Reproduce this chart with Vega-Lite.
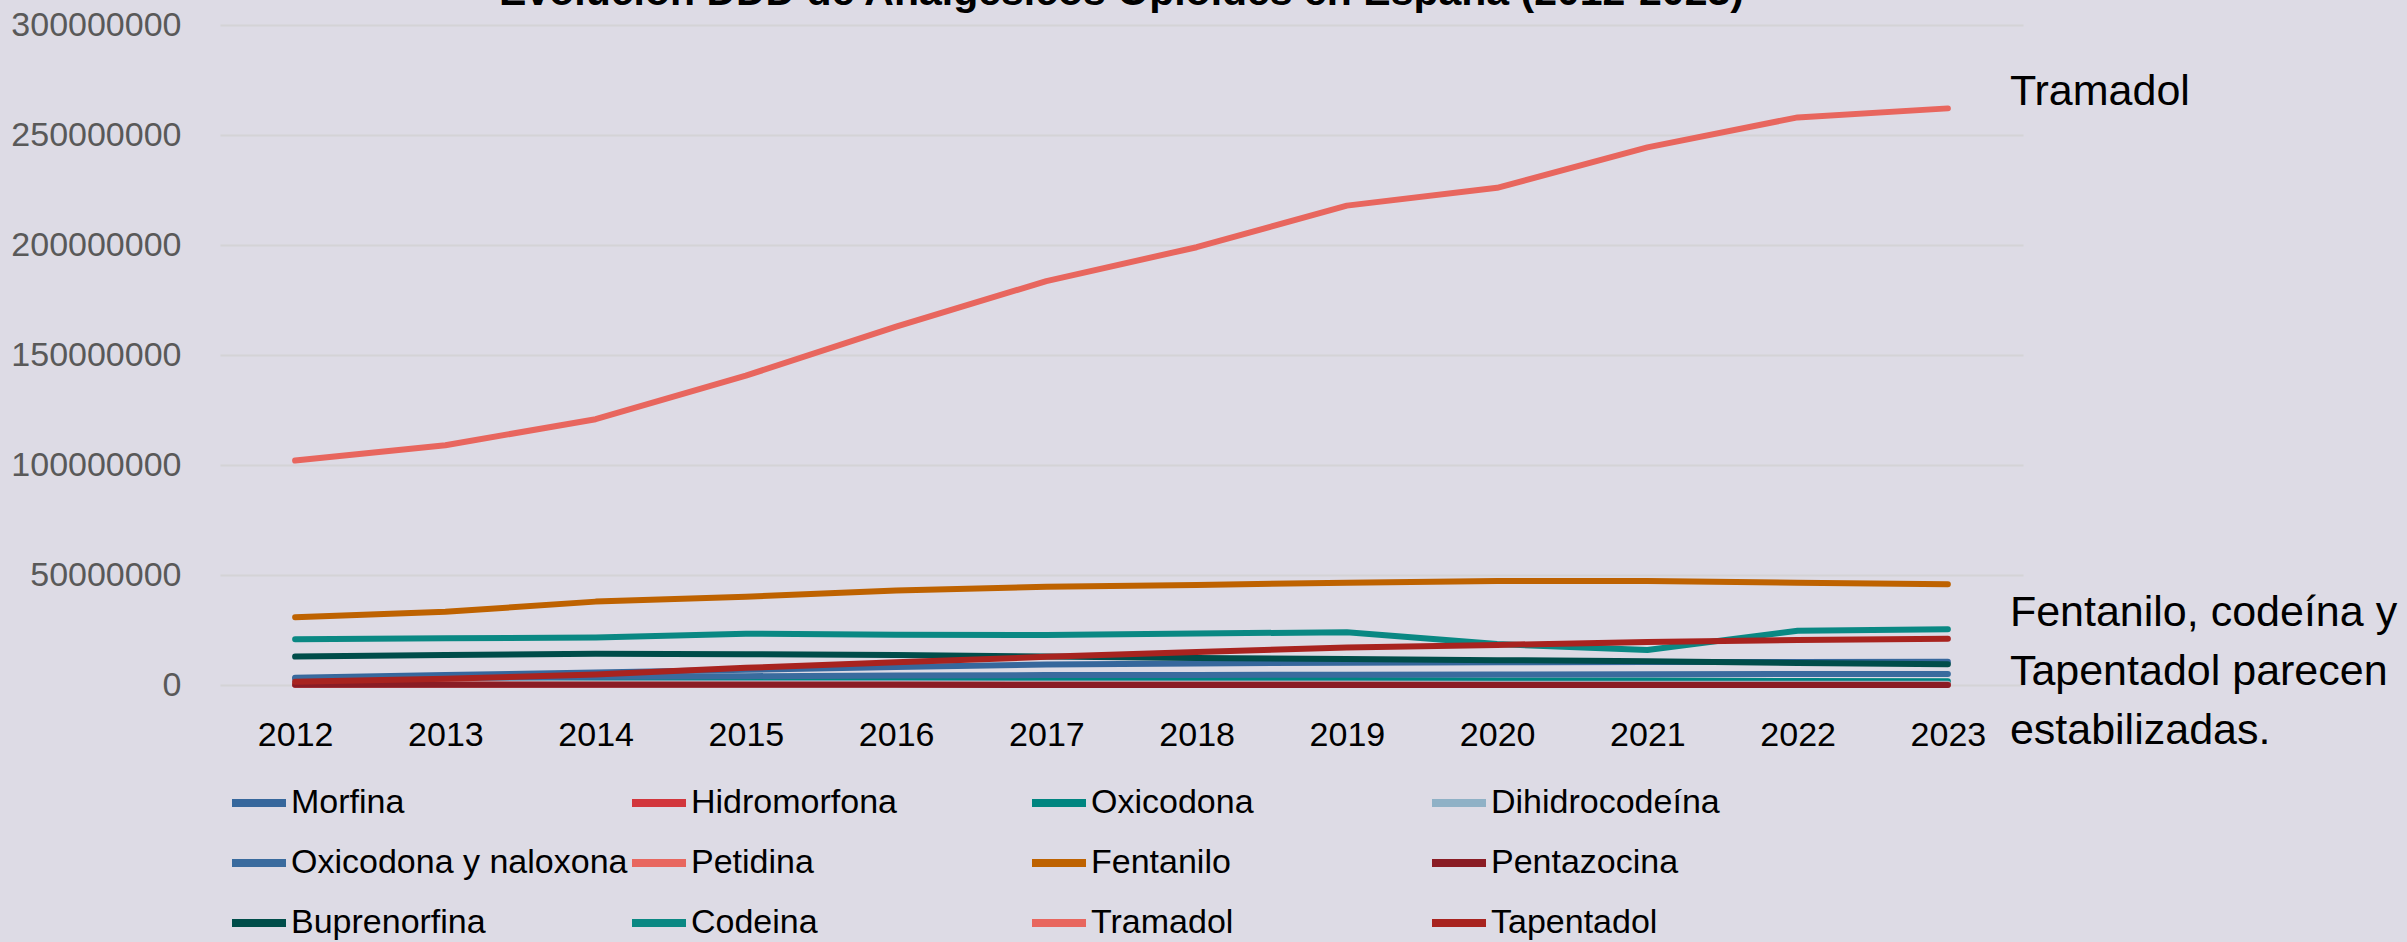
{
  "$schema": "https://vega.github.io/schema/vega-lite/v6.json",
  "width": 1803,
  "height": 660,
  "autosize": {"type": "none"},
  "padding": {"left": 220, "top": 25, "right": 384, "bottom": 257},
  "background": "#DDDBE5",
  "title": {
    "text": "Evolución DDD de Analgésicos Opioides en España (2012-2023)",
    "font": "Liberation Sans",
    "fontSize": 41,
    "fontWeight": "bold",
    "color": "#000000",
    "anchor": "middle",
    "baseline": "alphabetic",
    "offset": 0,
    "dy": 38
  },
  "config": {
    "view": {"stroke": null},
    "font": "Liberation Sans"
  },
  "datasets": {
    "series": [
      {"year": 2012, "drug": "Morfina", "ddd": 3300000},
      {"year": 2013, "drug": "Morfina", "ddd": 4500000},
      {"year": 2014, "drug": "Morfina", "ddd": 5700000},
      {"year": 2015, "drug": "Morfina", "ddd": 6900000},
      {"year": 2016, "drug": "Morfina", "ddd": 8200000},
      {"year": 2017, "drug": "Morfina", "ddd": 9300000},
      {"year": 2018, "drug": "Morfina", "ddd": 9800000},
      {"year": 2019, "drug": "Morfina", "ddd": 10100000},
      {"year": 2020, "drug": "Morfina", "ddd": 10300000},
      {"year": 2021, "drug": "Morfina", "ddd": 10400000},
      {"year": 2022, "drug": "Morfina", "ddd": 10500000},
      {"year": 2023, "drug": "Morfina", "ddd": 10600000},
      {"year": 2012, "drug": "Hidromorfona", "ddd": 100000},
      {"year": 2013, "drug": "Hidromorfona", "ddd": 200000},
      {"year": 2014, "drug": "Hidromorfona", "ddd": 300000},
      {"year": 2015, "drug": "Hidromorfona", "ddd": 400000},
      {"year": 2016, "drug": "Hidromorfona", "ddd": 450000},
      {"year": 2017, "drug": "Hidromorfona", "ddd": 500000},
      {"year": 2018, "drug": "Hidromorfona", "ddd": 550000},
      {"year": 2019, "drug": "Hidromorfona", "ddd": 600000},
      {"year": 2020, "drug": "Hidromorfona", "ddd": 600000},
      {"year": 2021, "drug": "Hidromorfona", "ddd": 600000},
      {"year": 2022, "drug": "Hidromorfona", "ddd": 600000},
      {"year": 2023, "drug": "Hidromorfona", "ddd": 600000},
      {"year": 2012, "drug": "Oxicodona", "ddd": 800000},
      {"year": 2013, "drug": "Oxicodona", "ddd": 1200000},
      {"year": 2014, "drug": "Oxicodona", "ddd": 1600000},
      {"year": 2015, "drug": "Oxicodona", "ddd": 2000000},
      {"year": 2016, "drug": "Oxicodona", "ddd": 2300000},
      {"year": 2017, "drug": "Oxicodona", "ddd": 2400000},
      {"year": 2018, "drug": "Oxicodona", "ddd": 2400000},
      {"year": 2019, "drug": "Oxicodona", "ddd": 2300000},
      {"year": 2020, "drug": "Oxicodona", "ddd": 2100000},
      {"year": 2021, "drug": "Oxicodona", "ddd": 2000000},
      {"year": 2022, "drug": "Oxicodona", "ddd": 1800000},
      {"year": 2023, "drug": "Oxicodona", "ddd": 1700000},
      {"year": 2012, "drug": "Dihidrocodeína", "ddd": 900000},
      {"year": 2013, "drug": "Dihidrocodeína", "ddd": 900000},
      {"year": 2014, "drug": "Dihidrocodeína", "ddd": 800000},
      {"year": 2015, "drug": "Dihidrocodeína", "ddd": 800000},
      {"year": 2016, "drug": "Dihidrocodeína", "ddd": 800000},
      {"year": 2017, "drug": "Dihidrocodeína", "ddd": 700000},
      {"year": 2018, "drug": "Dihidrocodeína", "ddd": 700000},
      {"year": 2019, "drug": "Dihidrocodeína", "ddd": 700000},
      {"year": 2020, "drug": "Dihidrocodeína", "ddd": 600000},
      {"year": 2021, "drug": "Dihidrocodeína", "ddd": 600000},
      {"year": 2022, "drug": "Dihidrocodeína", "ddd": 600000},
      {"year": 2023, "drug": "Dihidrocodeína", "ddd": 600000},
      {"year": 2012, "drug": "Oxicodona y naloxona", "ddd": 2800000},
      {"year": 2013, "drug": "Oxicodona y naloxona", "ddd": 3300000},
      {"year": 2014, "drug": "Oxicodona y naloxona", "ddd": 3700000},
      {"year": 2015, "drug": "Oxicodona y naloxona", "ddd": 4000000},
      {"year": 2016, "drug": "Oxicodona y naloxona", "ddd": 4300000},
      {"year": 2017, "drug": "Oxicodona y naloxona", "ddd": 4500000},
      {"year": 2018, "drug": "Oxicodona y naloxona", "ddd": 4600000},
      {"year": 2019, "drug": "Oxicodona y naloxona", "ddd": 4700000},
      {"year": 2020, "drug": "Oxicodona y naloxona", "ddd": 4800000},
      {"year": 2021, "drug": "Oxicodona y naloxona", "ddd": 4900000},
      {"year": 2022, "drug": "Oxicodona y naloxona", "ddd": 5000000},
      {"year": 2023, "drug": "Oxicodona y naloxona", "ddd": 5000000},
      {"year": 2012, "drug": "Petidina", "ddd": 300000},
      {"year": 2013, "drug": "Petidina", "ddd": 300000},
      {"year": 2014, "drug": "Petidina", "ddd": 250000},
      {"year": 2015, "drug": "Petidina", "ddd": 250000},
      {"year": 2016, "drug": "Petidina", "ddd": 200000},
      {"year": 2017, "drug": "Petidina", "ddd": 200000},
      {"year": 2018, "drug": "Petidina", "ddd": 200000},
      {"year": 2019, "drug": "Petidina", "ddd": 200000},
      {"year": 2020, "drug": "Petidina", "ddd": 150000},
      {"year": 2021, "drug": "Petidina", "ddd": 150000},
      {"year": 2022, "drug": "Petidina", "ddd": 150000},
      {"year": 2023, "drug": "Petidina", "ddd": 150000},
      {"year": 2012, "drug": "Fentanilo", "ddd": 30800000},
      {"year": 2013, "drug": "Fentanilo", "ddd": 33300000},
      {"year": 2014, "drug": "Fentanilo", "ddd": 37900000},
      {"year": 2015, "drug": "Fentanilo", "ddd": 40100000},
      {"year": 2016, "drug": "Fentanilo", "ddd": 42900000},
      {"year": 2017, "drug": "Fentanilo", "ddd": 44700000},
      {"year": 2018, "drug": "Fentanilo", "ddd": 45500000},
      {"year": 2019, "drug": "Fentanilo", "ddd": 46500000},
      {"year": 2020, "drug": "Fentanilo", "ddd": 47300000},
      {"year": 2021, "drug": "Fentanilo", "ddd": 47300000},
      {"year": 2022, "drug": "Fentanilo", "ddd": 46500000},
      {"year": 2023, "drug": "Fentanilo", "ddd": 45800000},
      {"year": 2012, "drug": "Pentazocina", "ddd": 100000},
      {"year": 2013, "drug": "Pentazocina", "ddd": 90000},
      {"year": 2014, "drug": "Pentazocina", "ddd": 80000},
      {"year": 2015, "drug": "Pentazocina", "ddd": 70000},
      {"year": 2016, "drug": "Pentazocina", "ddd": 60000},
      {"year": 2017, "drug": "Pentazocina", "ddd": 50000},
      {"year": 2018, "drug": "Pentazocina", "ddd": 50000},
      {"year": 2019, "drug": "Pentazocina", "ddd": 40000},
      {"year": 2020, "drug": "Pentazocina", "ddd": 40000},
      {"year": 2021, "drug": "Pentazocina", "ddd": 30000},
      {"year": 2022, "drug": "Pentazocina", "ddd": 30000},
      {"year": 2023, "drug": "Pentazocina", "ddd": 30000},
      {"year": 2012, "drug": "Buprenorfina", "ddd": 12900000},
      {"year": 2013, "drug": "Buprenorfina", "ddd": 13600000},
      {"year": 2014, "drug": "Buprenorfina", "ddd": 14200000},
      {"year": 2015, "drug": "Buprenorfina", "ddd": 14000000},
      {"year": 2016, "drug": "Buprenorfina", "ddd": 13600000},
      {"year": 2017, "drug": "Buprenorfina", "ddd": 12900000},
      {"year": 2018, "drug": "Buprenorfina", "ddd": 12300000},
      {"year": 2019, "drug": "Buprenorfina", "ddd": 11800000},
      {"year": 2020, "drug": "Buprenorfina", "ddd": 11300000},
      {"year": 2021, "drug": "Buprenorfina", "ddd": 10800000},
      {"year": 2022, "drug": "Buprenorfina", "ddd": 10000000},
      {"year": 2023, "drug": "Buprenorfina", "ddd": 9400000},
      {"year": 2012, "drug": "Codeina", "ddd": 20800000},
      {"year": 2013, "drug": "Codeina", "ddd": 21200000},
      {"year": 2014, "drug": "Codeina", "ddd": 21600000},
      {"year": 2015, "drug": "Codeina", "ddd": 23300000},
      {"year": 2016, "drug": "Codeina", "ddd": 22800000},
      {"year": 2017, "drug": "Codeina", "ddd": 22700000},
      {"year": 2018, "drug": "Codeina", "ddd": 23400000},
      {"year": 2019, "drug": "Codeina", "ddd": 24000000},
      {"year": 2020, "drug": "Codeina", "ddd": 18600000},
      {"year": 2021, "drug": "Codeina", "ddd": 15900000},
      {"year": 2022, "drug": "Codeina", "ddd": 24700000},
      {"year": 2023, "drug": "Codeina", "ddd": 25300000},
      {"year": 2012, "drug": "Tramadol", "ddd": 102000000},
      {"year": 2013, "drug": "Tramadol", "ddd": 109000000},
      {"year": 2014, "drug": "Tramadol", "ddd": 120800000},
      {"year": 2015, "drug": "Tramadol", "ddd": 140600000},
      {"year": 2016, "drug": "Tramadol", "ddd": 162900000},
      {"year": 2017, "drug": "Tramadol", "ddd": 183600000},
      {"year": 2018, "drug": "Tramadol", "ddd": 199000000},
      {"year": 2019, "drug": "Tramadol", "ddd": 217900000},
      {"year": 2020, "drug": "Tramadol", "ddd": 226000000},
      {"year": 2021, "drug": "Tramadol", "ddd": 244400000},
      {"year": 2022, "drug": "Tramadol", "ddd": 258000000},
      {"year": 2023, "drug": "Tramadol", "ddd": 262100000},
      {"year": 2012, "drug": "Tapentadol", "ddd": 1500000},
      {"year": 2013, "drug": "Tapentadol", "ddd": 2800000},
      {"year": 2014, "drug": "Tapentadol", "ddd": 4800000},
      {"year": 2015, "drug": "Tapentadol", "ddd": 7800000},
      {"year": 2016, "drug": "Tapentadol", "ddd": 10300000},
      {"year": 2017, "drug": "Tapentadol", "ddd": 12800000},
      {"year": 2018, "drug": "Tapentadol", "ddd": 15000000},
      {"year": 2019, "drug": "Tapentadol", "ddd": 17000000},
      {"year": 2020, "drug": "Tapentadol", "ddd": 18200000},
      {"year": 2021, "drug": "Tapentadol", "ddd": 19600000},
      {"year": 2022, "drug": "Tapentadol", "ddd": 20400000},
      {"year": 2023, "drug": "Tapentadol", "ddd": 21000000}
    ],
    "notes": [
      {"year": 2023, "ddd": 262100000, "note": "Tramadol"},
      {"year": 2023, "ddd": 25300000, "note": "Fentanilo, codeína y\nTapentadol parecen\nestabilizadas."}
    ]
  },
  "layer": [
    {
      "data": {"name": "series"},
      "mark": {"type": "line", "strokeWidth": 6, "strokeCap": "round", "strokeJoin": "round"},
      "encoding": {
        "x": {
          "field": "year",
          "type": "ordinal",
          "scale": {"type": "point", "padding": 0.5},
          "axis": {
            "title": null,
            "domain": false,
            "ticks": false,
            "tickSize": 0,
            "grid": false,
            "labelAngle": 0,
            "labelFont": "Liberation Sans",
            "labelFontSize": 34,
            "labelColor": "#000000",
            "labelBaseline": "alphabetic",
            "labelPadding": 60
          }
        },
        "y": {
          "field": "ddd",
          "type": "quantitative",
          "scale": {"domain": [0, 300000000], "nice": false},
          "axis": {
            "title": null,
            "domain": false,
            "ticks": false,
            "tickSize": 0,
            "values": [0, 50000000, 100000000, 150000000, 200000000, 250000000, 300000000],
            "format": "d",
            "grid": true,
            "gridColor": "#D4D3D6",
            "gridWidth": 2,
            "labelFont": "Liberation Sans",
            "labelFontSize": 34,
            "labelColor": "#595959",
            "labelPadding": 39
          }
        },
        "color": {
          "field": "drug",
          "type": "nominal",
          "sort": ["Morfina", "Hidromorfona", "Oxicodona", "Dihidrocodeína", "Oxicodona y naloxona", "Petidina", "Fentanilo", "Pentazocina", "Buprenorfina", "Codeina", "Tramadol", "Tapentadol"],
          "scale": {
            "domain": ["Morfina", "Hidromorfona", "Oxicodona", "Dihidrocodeína", "Oxicodona y naloxona", "Petidina", "Fentanilo", "Pentazocina", "Buprenorfina", "Codeina", "Tramadol", "Tapentadol"],
            "range": ["#36679C", "#D2363C", "#008580", "#8FB1C6", "#3A6B9E", "#E8675F", "#BE6200", "#8A1C24", "#004D4A", "#0A8883", "#E8665E", "#A8231F"]
          },
          "legend": {
            "title": null,
            "orient": "none",
            "legendX": 8,
            "legendY": 747,
            "direction": "horizontal",
            "columns": 4,
            "gridAlign": "all",
            "columnPadding": -18,
            "rowPadding": 12,
            "padding": 0,
            "symbolType": "stroke",
            "symbolSize": 2916,
            "symbolStrokeWidth": 8,
            "labelFont": "Liberation Sans",
            "labelFontSize": 34,
            "labelColor": "#000000",
            "labelOffset": 1,
            "labelLimit": 1000
          }
        }
      }
    },
    {
      "data": {"name": "notes"},
      "mark": {"type": "text", "align": "left", "baseline": "alphabetic", "dx": 62, "dy": -3, "font": "Liberation Sans", "fontSize": 43, "lineHeight": 59, "lineBreak": "\n", "color": "#000000"},
      "encoding": {
        "x": {"field": "year", "type": "ordinal"},
        "y": {"field": "ddd", "type": "quantitative"},
        "text": {"field": "note", "type": "nominal"}
      }
    }
  ]
}
